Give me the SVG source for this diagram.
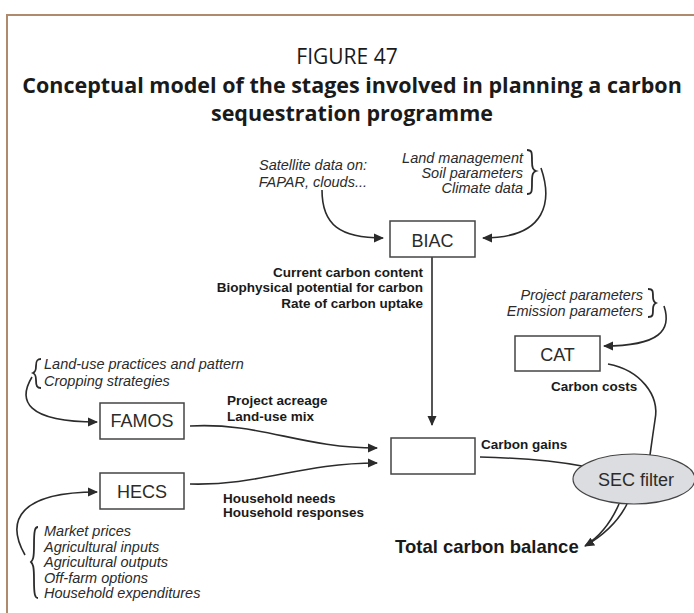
<svg xmlns="http://www.w3.org/2000/svg" width="694" height="613" viewBox="0 0 694 613">
<defs>
<marker id="ah" viewBox="0 0 10 10" refX="9" refY="5" markerWidth="10" markerHeight="10" markerUnits="userSpaceOnUse" orient="auto">
<path d="M0,0.5 L10,5 L0,9.5 z" fill="#2b2b2b"/>
</marker>
<style>
.frame{fill:none;stroke:#b08a6c;stroke-width:2}
.ttl{font-family:"Open Sans","DejaVu Sans",sans-serif;fill:#1a1a1a;text-anchor:middle}
.box{fill:#fff;stroke:#444;stroke-width:1.5}
.bt{font-family:"Liberation Sans",Arial,sans-serif;font-size:18px;fill:#2b2b2b;text-anchor:middle}
.it{font-family:"Liberation Sans",Arial,sans-serif;font-size:14.5px;font-style:italic;fill:#2b2b2b}
.bl{font-family:"Liberation Sans",Arial,sans-serif;font-size:13.5px;font-weight:bold;fill:#1a1a1a}
.con{fill:none;stroke:#2b2b2b;stroke-width:1.6}
.arr{marker-end:url(#ah)}
.br{fill:none;stroke:#2b2b2b;stroke-width:1.8}
</style>
</defs>
<rect width="694" height="613" fill="#fff"/>
<path class="frame" d="M7,613 V15 H694"/>
<text class="ttl" x="347" y="64" font-size="21">FIGURE 47</text>
<text class="ttl" x="352" y="93" font-size="21.5" font-weight="bold">Conceptual model of the stages involved in planning a carbon</text>
<text class="ttl" x="352" y="121" font-size="21.5" font-weight="bold">sequestration programme</text>

<g id="connectors">
<path class="con arr" d="M322,190 C322,225 340,238 383,238"/>
<path class="con arr" d="M541,168 C552,200 548,238 483,238"/>
<path class="con arr" d="M432,257 V425"/>
<path class="con arr" d="M664,306 C672,330 660,346 604,346"/>
<path class="con" d="M608,364 C640,370 660,395 655,420 C652,440 651,448 650,455"/>
<path class="con arr" d="M32,377 C18,400 25,422 97,422"/>
<path class="con arr" d="M190,426 C260,422 300,448 377,448"/>
<path class="con arr" d="M25,555 C5,520 20,492 97,492"/>
<path class="con arr" d="M190,484 C260,486 300,463 377,463"/>
<path class="con" d="M480,457 C520,458 560,462 582,466"/>
<path class="con" d="M619,504 C612,520 602,535 586,545"/>
<path class="con arr" d="M627,504 C618,522 604,535 585,546"/>
</g>

<g id="braces">
<path class="br" d="M527,150 C532,150 532,152 532,161 C532,168 533,170 536,171 C533,172 532,174 532,182 C532,192 532,194 527,194"/>
<path class="br" d="M648,289 C653,289 653,291 653,297 C653,301 654,302 656,303 C654,304 653,305 653,309 C653,315 653,317 648,317"/>
<path class="br" d="M41,359 C37,359 36,361 36,366 C36,371 35,372 33,373 C35,374 36,375 36,380 C36,386 37,388 41,388"/>
<path class="br" d="M38,527 C35,527 34,530 34,545 C34,558 33,560 31,562 C33,564 34,566 34,580 C34,595 35,598 38,598"/>
</g>

<g id="inputs-satellite">
<text class="it" text-anchor="end" x="367" y="170">Satellite data on:</text>
<text class="it" text-anchor="end" x="367" y="187">FAPAR, clouds...</text>
</g>
<g id="inputs-land">
<text class="it" text-anchor="end" x="523" y="163">Land management</text>
<text class="it" text-anchor="end" x="523" y="178">Soil parameters</text>
<text class="it" text-anchor="end" x="523" y="193">Climate data</text>
</g>
<g id="BIAC">
<rect class="box" x="390" y="221" width="85" height="36"/>
<text class="bt" x="432.5" y="247">BIAC</text>
</g>
<g id="biac-out">
<text class="bl" text-anchor="end" x="423" y="277">Current carbon content</text>
<text class="bl" text-anchor="end" x="423" y="292">Biophysical potential for carbon</text>
<text class="bl" text-anchor="end" x="423" y="308">Rate of carbon uptake</text>
</g>
<g id="inputs-project">
<text class="it" text-anchor="end" x="643" y="300">Project parameters</text>
<text class="it" text-anchor="end" x="643" y="316">Emission parameters</text>
</g>
<g id="CAT">
<rect class="box" x="515" y="336" width="85" height="35"/>
<text class="bt" x="557.5" y="361">CAT</text>
</g>
<text class="bl" x="551" y="391">Carbon costs</text>
<g id="inputs-landuse">
<text class="it" x="44" y="369">Land-use practices and pattern</text>
<text class="it" x="44" y="386">Cropping strategies</text>
</g>
<g id="FAMOS">
<rect class="box" x="100" y="403" width="84" height="36"/>
<text class="bt" x="142" y="427">FAMOS</text>
</g>
<text class="bl" x="227" y="405">Project acreage</text>
<text class="bl" x="227" y="421">Land-use mix</text>
<g id="center-box">
<rect class="box" x="391" y="438" width="84" height="36"/>
</g>
<text class="bl" x="481" y="449">Carbon gains</text>
<g id="HECS">
<rect class="box" x="100" y="473" width="84" height="36"/>
<text class="bt" x="142" y="498">HECS</text>
</g>
<text class="bl" x="223" y="503">Household needs</text>
<text class="bl" x="223" y="517">Household responses</text>
<g id="inputs-household">
<text class="it" x="44" y="536">Market prices</text>
<text class="it" x="44" y="552">Agricultural inputs</text>
<text class="it" x="44" y="567">Agricultural outputs</text>
<text class="it" x="44" y="583">Off-farm options</text>
<text class="it" x="44" y="598">Household expenditures</text>
</g>
<g id="SEC">
<ellipse cx="634" cy="479" rx="61" ry="25" fill="#dcdde0" stroke="#444" stroke-width="1.2"/>
<text class="bt" x="636" y="486" font-size="18.5">SEC filter</text>
</g>
<text x="395" y="553" font-family="Liberation Sans, Arial, sans-serif" font-size="18.5" font-weight="bold" fill="#1a1a1a">Total carbon balance</text>
</svg>
